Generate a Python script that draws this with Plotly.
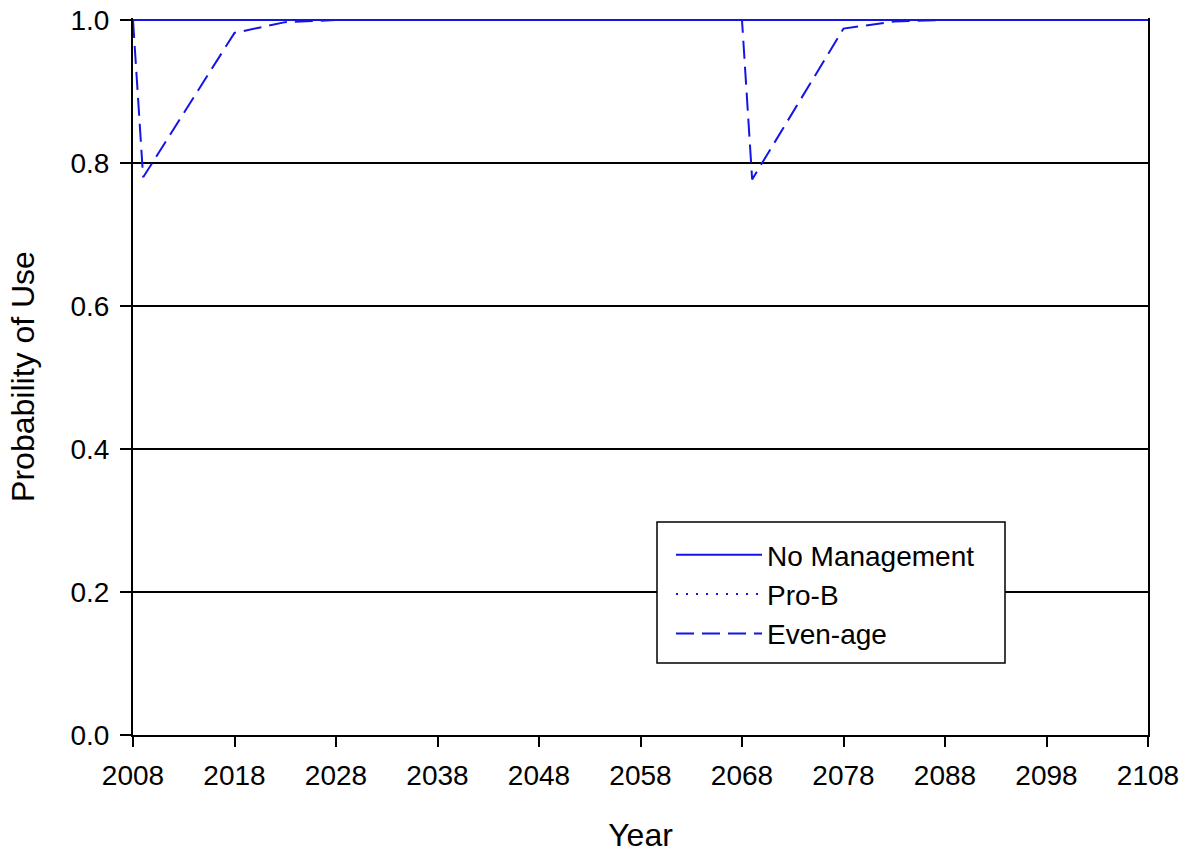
import plotly.graph_objects as go

years_flat = [2008, 2018, 2028, 2038, 2048, 2058, 2068, 2078, 2088, 2098, 2108]
no_management = [1.0, 1.0, 1.0, 1.0, 1.0, 1.0, 1.0, 1.0, 1.0, 1.0, 1.0]
pro_b = [1.0, 1.0, 1.0, 1.0, 1.0, 1.0, 1.0, 1.0, 1.0, 1.0, 1.0]

years_even = [2008, 2009, 2018, 2023, 2028, 2068, 2069, 2078, 2083, 2088, 2108]
even_age = [1.0, 0.78, 0.982, 0.997, 1.0, 1.0, 0.777, 0.988, 0.998, 1.0, 1.0]

x_ticks = [2008, 2018, 2028, 2038, 2048, 2058, 2068, 2078, 2088, 2098, 2108]
y_ticks = [0.0, 0.2, 0.4, 0.6, 0.8, 1.0]

BLUE = "#1414e6"
FONT = "Liberation Sans, Arial, sans-serif"

L, R, T, B = 133, 41, 18, 121
W, H = 1189, 856
PW, PH = W - L - R, H - T - B
Y_TOP = 1.0 + 2.0 / 715  # leave 2px above the 1.0 line so it is not clipped


def px_x(px):
    return (px - L) / PW


def px_y(py):
    return (H - B - py) / PH


fig = go.Figure()
fig.add_trace(go.Scatter(x=years_flat, y=no_management, mode="lines", name="No Management",
                         line=dict(color=BLUE, width=2, dash="solid")))
fig.add_trace(go.Scatter(x=years_flat, y=pro_b, mode="lines", name="Pro-B",
                         line=dict(color=BLUE, width=2, dash="2px,8px")))
fig.add_trace(go.Scatter(x=years_even, y=even_age, mode="lines", name="Even-age",
                         line=dict(color=BLUE, width=2, dash="18px,8px")))

# legend frame
fig.add_shape(type="rect", xref="paper", yref="paper",
              x0=px_x(657), x1=px_x(1005), y0=px_y(663), y1=px_y(522),
              line=dict(color="black", width=1.5), fillcolor="white", layer="above")

fig.update_layout(
    width=W, height=H,
    margin=dict(l=L, r=R, t=T, b=B, autoexpand=False),
    paper_bgcolor="white", plot_bgcolor="white",
    font=dict(family=FONT, size=28, color="black"),
    showlegend=True,
    legend=dict(
        x=px_x(671), y=px_y(530), xanchor="left", yanchor="top",
        borderwidth=0, bgcolor="rgba(0,0,0,0)",
        font=dict(family=FONT, size=28, color="black"),
        itemwidth=86, tracegroupgap=0,
    ),
    xaxis=dict(
        range=[2008, 2108], tickmode="array", tickvals=x_ticks,
        ticktext=[str(t) for t in x_ticks],
        showgrid=False, zeroline=False, automargin=False,
        showline=True, linecolor="black", linewidth=2,
        ticks="outside", ticklen=10, tickwidth=2, tickcolor="black",
        ticklabelstandoff=4,
        tickfont=dict(size=28),
        title=dict(text="Year", font=dict(size=32), standoff=34),
    ),
    yaxis=dict(
        range=[0, Y_TOP], tickmode="array", tickvals=y_ticks,
        ticktext=[f"{t:.1f}" for t in y_ticks],
        showgrid=True, gridcolor="black", gridwidth=1.5, zeroline=False,
        automargin=False,
        showline=True, linecolor="black", linewidth=2, mirror=True,
        ticks="outside", ticklen=11, tickwidth=2, tickcolor="black",
        ticklabelstandoff=5,
        tickfont=dict(size=28),
        title=dict(text="Probability of Use", font=dict(size=32), standoff=26),
    ),
)

fig.write_html("out.html", config={"displayModeBar": False},
               post_script="document.body.style.margin='0';")
